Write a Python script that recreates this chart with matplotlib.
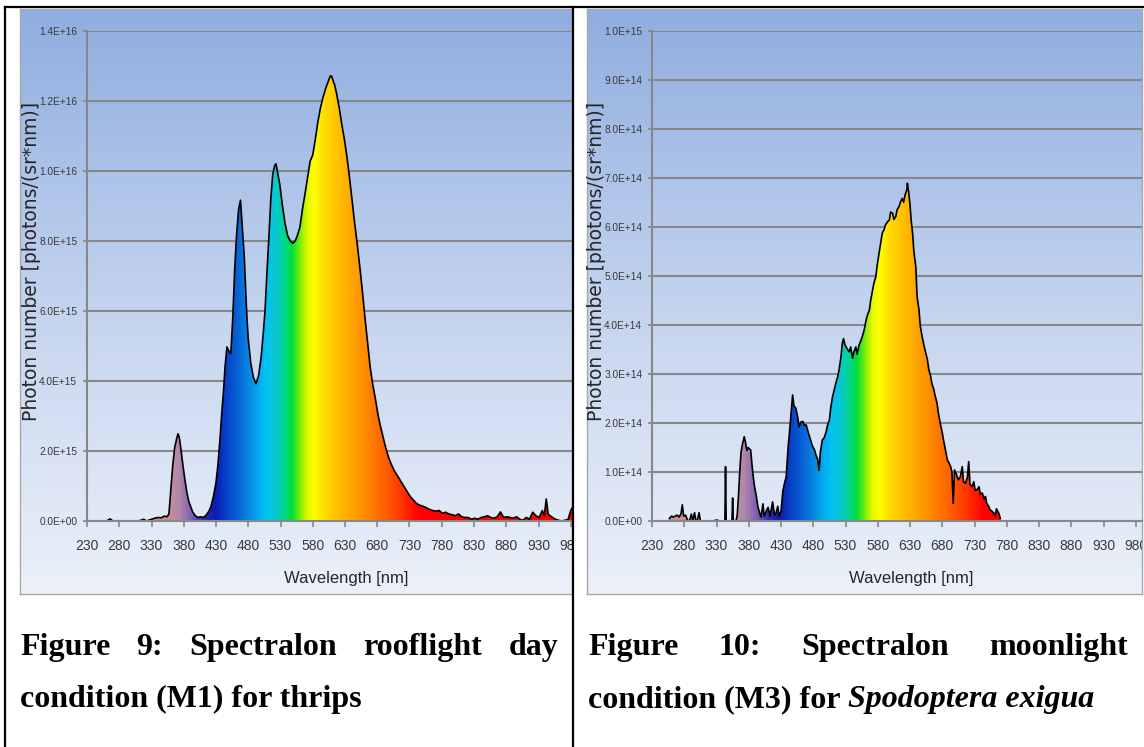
import matplotlib
matplotlib.use("Agg")
import matplotlib.pyplot as plt
import numpy as np
from matplotlib.colors import LinearSegmentedColormap, Normalize
from matplotlib.patches import Polygon
from matplotlib.lines import Line2D
from matplotlib.ticker import FuncFormatter

W, H = 1144, 747

# %% data
# M1 rooflight day (thrips), photon number in units of 1e15
m1_wl = [230, 240, 250, 260, 266, 270, 280, 290, 300, 310, 318, 322, 330, 335,
         340, 345, 350, 354, 357, 360, 363, 366, 369, 371, 373, 376, 379, 382,
         385, 388, 391, 394, 398, 402, 406, 410, 414, 418, 422, 426, 430, 433,
         436, 439, 442, 444, 447, 450, 453, 456, 459, 462, 465, 468, 470, 472,
         474, 476, 478, 480, 484, 488, 492, 496, 500, 503, 506, 509, 512, 515,
         518, 521, 523, 526, 529, 533, 537, 541, 545, 549, 553, 557, 560, 564,
         568, 572, 576, 580, 584, 588, 592, 596, 600, 604, 607, 609, 611, 614,
         617, 621, 625, 629, 633, 637, 641, 645, 649, 653, 657, 661, 665, 669,
         673, 677, 681, 685, 689, 693, 697, 701, 706, 711, 716, 721, 726, 731,
         736, 741, 746, 751, 756, 761, 766, 771, 776, 781, 786, 791, 796, 801,
         806, 811, 816, 821, 826, 831, 836, 841, 846, 851, 856, 861, 866, 871,
         876, 881, 886, 891, 896, 901, 906, 911, 916, 921, 926, 931, 936, 939,
         942, 945, 948, 952, 956, 961, 966, 971, 976, 980, 983, 986]
m1_val = [0, 0, 0, 0, 0.06, 0, 0, 0, 0, 0, 0.05, 0, 0.05, 0.08,
          0.1, 0.09, 0.14, 0.12, 0.2, 0.9, 1.6, 2.1, 2.35, 2.49, 2.4, 2.0, 1.55, 1.15,
          0.8, 0.55, 0.4, 0.25, 0.15, 0.1, 0.12, 0.1, 0.15, 0.25, 0.4, 0.7, 1.1, 1.6,
          2.3, 3.1, 3.8, 4.4, 4.97, 4.85, 4.78, 5.8, 7.2, 8.2, 8.9, 9.16, 8.6, 8.0,
          7.5, 6.6, 5.8, 5.2, 4.5, 4.1, 3.92, 4.15, 4.68, 5.3, 6.0, 7.1, 8.1, 9.2,
          9.9, 10.15, 10.2, 9.9, 9.6, 9.0, 8.5, 8.15, 8.0, 7.93, 8.0, 8.2, 8.38, 8.9,
          9.34, 9.8, 10.28, 10.45, 10.9, 11.4, 11.8, 12.1, 12.35, 12.55, 12.7, 12.71, 12.6, 12.45,
          12.2, 11.8, 11.33, 10.9, 10.4, 9.8, 9.15, 8.5, 7.9, 7.25, 6.55, 5.8, 5.1, 4.4,
          3.9, 3.5, 3.05, 2.7, 2.4, 2.1, 1.85, 1.65, 1.45, 1.3, 1.15, 1.0, 0.85, 0.7,
          0.6, 0.5, 0.45, 0.42, 0.38, 0.33, 0.3, 0.28, 0.3, 0.22, 0.25, 0.2, 0.18, 0.15,
          0.2, 0.12, 0.1, 0.1, 0.05, 0.08, 0.05, 0.1, 0.12, 0.15, 0.1, 0.08, 0.12, 0.26,
          0.1, 0.12, 0.1, 0.08, 0.12, 0.05, 0.02, 0.1, 0.05, 0.25, 0.15, 0.1, 0.3, 0.15,
          0.63, 0.2, 0.15, 0.1, 0.05, 0.02, 0, 0.02, 0.05, 0.3, 0.4, 0.05]

# M3 moonlight (Spodoptera exigua), photon number in units of 1e14
m3_wl = [257, 260, 263, 266, 269, 272, 275, 277, 279, 282, 285, 288, 291, 293,
         296, 298, 300, 303, 305, 310, 315, 320, 325, 330, 335, 340, 343, 344,
         345, 350, 354, 355, 356, 360, 362, 364, 366, 368, 370, 373, 375, 377,
         379, 381, 383, 385, 387, 389, 392, 394, 397, 399, 402, 404, 407, 410,
         413, 417, 420, 422, 425, 427, 430, 433, 436, 438, 441, 443, 445, 448,
         450, 453, 456, 458, 461, 464, 466, 469, 472, 474, 477, 479, 482, 484,
         487, 489, 491, 494, 497, 500, 502, 505, 507, 510, 513, 515, 518, 520,
         523, 525, 527, 529, 531, 533, 536, 538, 541, 543, 546, 548, 551, 553,
         556, 559, 562, 564, 567, 569, 572, 574, 577, 579, 582, 585, 587, 590,
         592, 595, 598, 600, 603, 605, 608, 610, 613, 615, 618, 620, 623, 625,
         626, 628, 630, 632, 634, 636, 639, 641, 644, 646, 649, 652, 654, 657,
         659, 662, 664, 667, 669, 672, 674, 677, 680, 682, 685, 688, 690, 693,
         695, 697, 699, 702, 705, 708, 711, 713, 716, 719, 721, 723, 726, 729,
         731, 734, 737, 739, 742, 745, 747, 749, 752, 754, 757, 760, 762, 764,
         766, 768, 770]
m3_val = [0.05, 0.1, 0.08, 0.1, 0.12, 0.08, 0.15, 0.33, 0.1, 0.12, 0.02, 0, 0.14, 0,
          0.17, 0, 0, 0.17, 0, 0, 0, 0, 0, 0.02, 0, 0, 0, 1.11,
          0, 0, 0, 0.47, 0, 0, 0.1, 0.5, 1.0, 1.4, 1.55, 1.72, 1.6, 1.44,
          1.5, 1.47, 1.45, 1.15, 0.9, 0.7, 0.49, 0.3, 0.16, 0.08, 0.35, 0.1, 0.2, 0.28,
          0.1, 0.39, 0.12, 0.15, 0.3, 0.1, 0.2, 0.62, 0.8, 0.9, 1.5, 1.78, 2.1, 2.57,
          2.35, 2.3, 2.11, 1.92, 2.02, 2.03, 1.95, 1.96, 1.82, 1.73, 1.6, 1.52, 1.45, 1.35,
          1.25, 1.03, 1.4, 1.65, 1.7, 1.82, 1.95, 2.06, 2.3, 2.54, 2.7, 2.81, 2.95, 3.08,
          3.35, 3.62, 3.72, 3.6, 3.55, 3.5, 3.45, 3.55, 3.32, 3.45, 3.55, 3.4, 3.59, 3.65,
          3.76, 3.9, 4.1, 4.2, 4.3, 4.5, 4.71, 4.85, 4.98, 5.2, 5.46, 5.7, 5.87, 5.95,
          6.04, 6.1, 6.14, 6.3, 6.28, 6.15, 6.21, 6.35, 6.41, 6.5, 6.58, 6.5, 6.68, 6.75,
          6.89, 6.7, 6.45, 6.1, 5.87, 5.5, 5.19, 4.58, 4.3, 3.97, 3.75, 3.56, 3.45, 3.29,
          3.1, 2.95, 2.8, 2.68, 2.55, 2.4, 2.2, 1.99, 1.8, 1.65, 1.45, 1.24, 1.2, 1.11,
          1.0, 0.36, 1.04, 0.95, 0.84, 0.9, 1.11, 0.8, 0.77, 0.9, 1.21, 0.75, 0.7, 0.8,
          0.62, 0.64, 0.7, 0.55, 0.57, 0.45, 0.5, 0.36, 0.3, 0.23, 0.2, 0.16, 0.1, 0.25,
          0.2, 0.15, 0.05]

x_ticks = [230, 280, 330, 380, 430, 480, 530, 580, 630, 680, 730, 780, 830, 880, 930, 980]
m1_yticks = [0, 2e15, 4e15, 6e15, 8e15, 1e16, 1.2e16, 1.4e16]
m3_yticks = [0, 1e14, 2e14, 3e14, 4e14, 5e14, 6e14, 7e14, 8e14, 9e14, 1e15]

y_label = "Photon number [photons/(sr*nm)]"
x_label = "Wavelength [nm]"

# %% styling
plt.rcParams["font.family"] = ["Liberation Sans", "DejaVu Sans"]

GRID = "#878787"
TXT = "#3a3a3a"
bg_cmap = LinearSegmentedColormap.from_list("bg", ["#8fade0", "#c3d3ee", "#ecf1f9"])

WL0, WL1 = 230, 1000
spec_stops = [(230, "#c8909a"), (355, "#c8909a"), (372, "#b088a8"), (392, "#7a5cb6"),
              (410, "#3028a8"), (428, "#0a1eb0"), (445, "#0742c8"), (470, "#0870da"),
              (492, "#05a4ec"), (506, "#00c2f5"), (522, "#0ac8d2"), (536, "#00d68c"),
              (548, "#00e036"), (560, "#7cee0a"), (572, "#e6f800"), (582, "#ffff00"),
              (602, "#ffd600"), (632, "#ffb000"), (662, "#ff8a00"), (692, "#ff6000"),
              (720, "#ff3200"), (745, "#ff0000"), (1000, "#ff0000")]
spec_cmap = LinearSegmentedColormap.from_list(
    "spec", [((w - WL0) / (WL1 - WL0), c) for w, c in spec_stops])

fig = plt.figure(figsize=(W / 100, H / 100), dpi=100)
fig.patch.set_facecolor("white")


def fig_rect(x0, y0, x1, y1):
    return [x0 / W, 1 - y1 / H, (x1 - x0) / W, (y1 - y0) / H]


def sci(v, pos):
    return f"{v:.1E}"


def panel(box, plot, wl, vals, scale, yticks, label_x):
    bg = fig.add_axes(fig_rect(*box), zorder=0)
    bg.imshow(np.linspace(0, 1, 256)[:, None], cmap=bg_cmap, aspect="auto",
              extent=[0, 1, 0, 1], origin="upper")
    bg.set_xlim(0, 1)
    bg.set_ylim(0, 1)
    bg.set_xticks([])
    bg.set_yticks([])
    for s in bg.spines.values():
        s.set_color("#a8a8a8")
        s.set_linewidth(1)

    ax = fig.add_axes(fig_rect(*plot), zorder=1)
    ax.patch.set_alpha(0)
    y = np.array(vals) * scale
    ymax = yticks[-1]
    outline = Polygon([(wl[0], 0)] + list(zip(wl, y)) + [(wl[-1], 0)], closed=True,
                      facecolor="none", edgecolor="none")
    ax.add_patch(outline)
    ramp = np.linspace(WL0, WL1, 800)[None, :]
    im = ax.imshow(ramp, cmap=spec_cmap, norm=Normalize(WL0, WL1),
                   extent=[WL0, WL1, 0, ymax], aspect="auto", origin="lower",
                   interpolation="bilinear", zorder=2)
    im.set_clip_path(outline)
    ax.plot(wl, y, color="black", lw=1.2, zorder=3)

    ax.set_xlim(230, 230 + (plot[2] - plot[0]) / 0.645)
    ax.set_ylim(0, ymax)
    ax.set_xticks(x_ticks)
    ax.set_yticks(yticks)
    ax.yaxis.set_major_formatter(FuncFormatter(sci))
    ax.set_axisbelow(True)
    ax.yaxis.grid(True, color=GRID, lw=1.5)
    for side in ("top", "right"):
        ax.spines[side].set_visible(False)
    for side in ("left", "bottom"):
        ax.spines[side].set_color(GRID)
        ax.spines[side].set_linewidth(1.5)
        ax.spines[side].set_zorder(4)
    ax.tick_params(axis="x", direction="out", length=4, width=1.2, color=GRID,
                   pad=9, labelsize=10, labelcolor=TXT)
    ax.tick_params(axis="y", direction="out", length=3, width=1.2, color=GRID,
                   pad=4, labelsize=7.3, labelcolor=TXT)
    for lbl in ax.get_xticklabels():
        lbl.set_clip_on(True)
        lbl.set_clip_box(bg.bbox)

    ax.text(632, -57 / (plot[3] - plot[1]), x_label, transform=ax.get_xaxis_transform(),
            ha="center", va="center", fontsize=12, color="#262626")
    fig.text(label_x / W, 1 - 261 / H, y_label, rotation=90, ha="center", va="center",
             fontsize=13.5, color="#262626", family=["DejaVu Sans"])
    return ax


panel((20, 9, 572, 594), (87, 30.7, 572, 521), m1_wl, m1_val, 1e15, m1_yticks, 32)
panel((587, 9, 1142, 594), (652, 30.7, 1142, 521), m3_wl, m3_val, 1e14, m3_yticks, 597)

# %% table rules
for x0, y0, x1, y1 in [(5, 7, 1144, 7), (5, 7, 5, 747), (573, 7, 573, 747)]:
    fig.add_artist(Line2D([x0 / W, x1 / W], [1 - y0 / H, 1 - y1 / H], color="black",
                          lw=1.6, transform=fig.transFigure, zorder=5))

# %% captions
cap = dict(family=["Liberation Serif", "DejaVu Serif"], weight="bold", fontsize=23,
           color="black", va="baseline", ha="left")
renderer = fig.canvas.get_renderer()


def justified(words, x0, x1, y):
    items = [fig.text(0, 1 - y / H, w, **cap) for w in words]
    widths = [t.get_window_extent(renderer).width for t in items]
    gap = (x1 - x0 - sum(widths)) / (len(words) - 1)
    x = x0
    for t, w in zip(items, widths):
        t.set_x(x / W)
        x += w + gap


justified(["Figure", "9:", "Spectralon", "rooflight", "day"], 20, 558, 655)
justified(["Figure", "10:", "Spectralon", "moonlight"], 588, 1128, 655)
fig.text(20 / W, 1 - 707 / H, "condition (M1) for thrips", **cap)
first = fig.text(588 / W, 1 - 707 / H, "condition (M3) for ", **cap)
w_first = first.get_window_extent(renderer).width
fig.text((588 + w_first) / W, 1 - 707 / H, "Spodoptera exigua", style="italic", **cap)

fig.savefig("out.png", dpi=100)
